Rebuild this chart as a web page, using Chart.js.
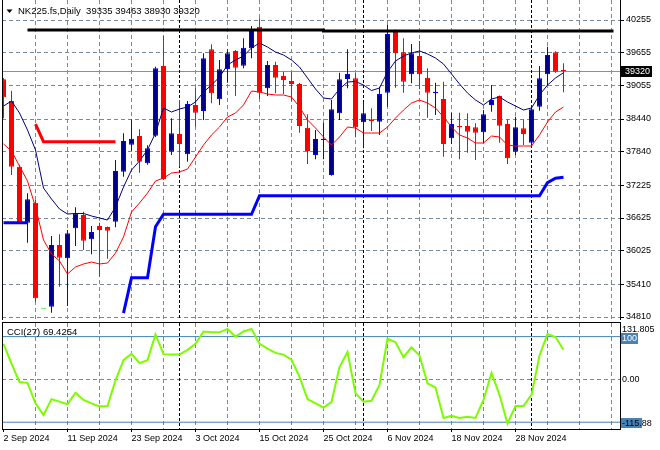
<!DOCTYPE html>
<html lang="en">
<head>
<meta charset="UTF-8" />
<title>NK225.fs Daily</title>
<script src="https://cdn.jsdelivr.net/npm/chart.js@4"></script>
<style>
  body { margin: 0; background: #fff; }
  #wrap { position: relative; width: 660px; height: 450px; overflow: hidden; background: #fff; }
  #price { position: absolute; left: 0; top: 0; }
  #cci { position: absolute; left: 0; top: 320px; }
</style>
</head>
<body>
<div id="wrap">
  <canvas id="price" width="660" height="326"></canvas>
  <canvas id="cci" width="660" height="130"></canvas>
</div>
<script>
const symbol = 'NK225.fs';
const period = 'Daily';

// trading days (one Sunday session on 8 Sep)
const dates = [
  '2024-09-02','2024-09-03','2024-09-04','2024-09-05','2024-09-06','2024-09-08','2024-09-09','2024-09-10','2024-09-11','2024-09-12',
  '2024-09-13','2024-09-16','2024-09-17','2024-09-18','2024-09-19','2024-09-20','2024-09-23','2024-09-24','2024-09-25','2024-09-26',
  '2024-09-27','2024-09-30','2024-10-01','2024-10-02','2024-10-03','2024-10-04','2024-10-07','2024-10-08','2024-10-09','2024-10-10',
  '2024-10-11','2024-10-14','2024-10-15','2024-10-16','2024-10-17','2024-10-18','2024-10-21','2024-10-22','2024-10-23','2024-10-24',
  '2024-10-25','2024-10-28','2024-10-29','2024-10-30','2024-10-31','2024-11-01','2024-11-04','2024-11-05','2024-11-06','2024-11-07',
  '2024-11-08','2024-11-11','2024-11-12','2024-11-13','2024-11-14','2024-11-15','2024-11-18','2024-11-19','2024-11-20','2024-11-21',
  '2024-11-22','2024-11-25','2024-11-26','2024-11-27','2024-11-28','2024-11-29','2024-12-02','2024-12-03','2024-12-04','2024-12-05',
  '2024-12-06'
];

const open = [
  39168, 38770, 37566, 36539, 36906, 34960, 34999, 36130, 35886, 36436,
  36680, 36234, 36478, 36460, 36558, 37474, 37969, 38128, 37628, 38134,
  39412, 37841, 38165, 37793, 38697, 38587, 39718, 38801, 39357, 39687,
  39417, 39736, 40132, 39003, 39430, 39228, 39137, 39082, 38281, 37780,
  38055, 37413, 38545, 39174, 39186, 38380, 38435, 38391, 38922, 40072,
  39663, 39260, 39595, 39197, 38911, 38807, 38087, 38312, 38312, 38288,
  38196, 38697, 38862, 38348, 37841, 38270, 38006, 38666, 39260, 39663,
  39335
];
const high = [
  39192, 38959, 37600, 37078, 36955, 34960, 36295, 36326, 36405, 36821,
  36740, 36478, 36539, 36470, 37688, 38178, 38435, 38251, 37960, 39399,
  39962, 38453, 38788, 38770, 39014, 39645, 39810, 39522, 39718, 39705,
  39920, 40145, 40286, 39503, 39491, 39307, 39307, 39100, 38526, 38238,
  38372, 38788, 39289, 39718, 39278, 38757, 38636, 39032, 40163, 40080,
  39920, 39815, 39870, 39370, 39106, 39124, 38556, 38556, 38545, 38361,
  38605, 39063, 38870, 38435, 38482, 38435, 38697, 39412, 39766, 39680,
  39463
];
const low = [
  38453, 37413, 36520, 36172, 35091, 34960, 34889, 35366, 35012, 36112,
  36038, 35959, 35549, 35879, 36455, 37382, 37859, 37456, 37600, 38110,
  37322, 37780, 37566, 37657, 38299, 38422, 38728, 38697, 39106, 38862,
  39370, 39553, 38807, 38862, 38911, 38898, 38770, 38189, 37615, 37701,
  37701, 37400, 38422, 39003, 38105, 37903, 38220, 38147, 38666, 39014,
  38922, 39095, 38985, 38464, 38514, 37749, 37982, 37701, 37822, 37688,
  38006, 38574, 38006, 37615, 37780, 37963, 37945, 38592, 39063, 39290,
  38930
];
const close = [
  38838, 37566, 36539, 36968, 35153, 34960, 36130, 35897, 36345, 36711,
  36209, 36368, 36405, 36393, 37487, 38037, 38079, 37657, 37903, 39370,
  37334, 38178, 37982, 38715, 38556, 39553, 38911, 39351, 39645, 39381,
  39747, 40085, 38922, 39430, 39197, 39155, 39082, 38312, 37853, 38073,
  38079, 38618, 39168, 39265, 38288, 38545, 38398, 38898, 39998, 39645,
  39124, 39645, 39260, 38922, 38941, 37982, 38348, 38288, 38207, 38189,
  38526, 38788, 38318, 37719, 38288, 38165, 38618, 39186, 39613, 39307,
  39320
];

// moving averages (navy = fast, red = slow)
const maFast = [
  38678, 38770, 38550, 38238, 37872, 37175, 36973, 36790, 36698, 36708,
  36708, 36662, 36625, 36588, 36827, 37193, 37505, 37670, 37872, 38183,
  38642, 38568, 38623, 38660, 38752, 38935, 39063, 39210, 39430, 39522,
  39595, 39742, 39833, 39760, 39668, 39613, 39522, 39393, 39192, 38990,
  38825, 38807, 38990, 39118, 39128, 39063, 38962, 39008, 39302, 39503,
  39595, 39650, 39687, 39632, 39558, 39448, 39265, 39082, 38917, 38788,
  38697, 38807, 38843, 38752, 38678, 38605, 38642, 38880, 39063, 39192,
  39289
];
const maSlow = [
  37982, 37853, 37578, 37303, 36827, 36222, 35965, 35837, 35599, 35727,
  35782, 35818, 35782, 35800, 35983, 36277, 36735, 36900, 37083, 37303,
  37358, 37450, 37468, 37523, 37743, 37963, 38147, 38293, 38477, 38550,
  38697, 38953, 38935, 38898, 38880, 38880, 38843, 38660, 38422, 38275,
  38110, 37963, 38110, 38293, 38275, 38183, 38183, 38183, 38293, 38458,
  38605, 38733, 38788, 38733, 38642, 38477, 38293, 38147, 38092, 38000,
  38000, 38128, 38110, 37963, 37945, 37945, 37945, 38147, 38385, 38568,
  38660
];

// trailing stop lines
const stopUp = [
  36540, 36540, 36540, 36540, null, null, null, null, null, null,
  null, null, null, null, null, 34880, 35531, 35531, 35531, 36466,
  36693, 36693, 36693, 36693, 36693, 36693, 36693, 36693, 36693, 36693,
  36693, 36693, 37034, 37034, 37034, 37034, 37034, 37034, 37034, 37034,
  37034, 37034, 37034, 37034, 37034, 37034, 37034, 37034, 37034, 37034,
  37034, 37034, 37034, 37034, 37034, 37034, 37034, 37034, 37034, 37034,
  37034, 37034, 37034, 37034, 37034, 37034, 37034, 37034, 37272, 37353,
  37371
];
const stopDown = [
  null, null, null, null, 38348, 38025, 38025, 38025, 38025, 38025,
  38025, 38025, 38025, 38025, 38025, null, null, null, null, null,
  null, null, null, null, null, null, null, null, null, null,
  null, null, null, null, null, null, null, null, null, null,
  null, null, null, null, null, null, null, null, null, null,
  null, null, null, null, null, null, null, null, null, null,
  null, null, null, null, null, null, null, null, null, null,
  null
];

// resistance trend line (bar index, price)
const resistX = [3, 40, 40, 76.25];
const resistY = [40072, 40072, 40053, 40053];

const priceTicks = [40255, 39655, 39055, 38440, 37840, 37225, 36625, 36025, 35410, 34810];

const cci = [
  83, 37, -6, -8, -56, -83, -46, -52, -58, -31,
  -48, -56, -63, -62, -2, 45, 60, 38, 45, 105,
  59, 58, 58, 69, 83, 112, 110, 110, 118, 100,
  112, 118, 83, 72, 62, 58, 46, 6, -46, -56,
  -66, -53, 29, 64, -32, -52, -50, -13, 95, 87,
  52, 75, 56, -9, -19, -90, -85, -90, -87, -90,
  -48, 15, -36, -103, -62, -62, -36, 56, 106, 99,
  69.4254
];
const cciLevels = [100, -100];
const CCI_MAX = 131.805, CCI_MIN = -115.88;

// view range
const X_MIN = -0.1875, X_MAX = 77.0625;
const P_MAX = 40621.7, P_MIN = 34755;

const FONT = "9px 'Liberation Sans', Arial, sans-serif";
const TITLE_FONT = "9.5px 'Liberation Sans', Arial, sans-serif";
const gridColor = '#778899';
const monthNames = ['Jan','Feb','Mar','Apr','May','Jun','Jul','Aug','Sep','Oct','Nov','Dec'];

Chart.defaults.font.family = "'Liberation Sans', Arial, sans-serif";
Chart.defaults.font.size = 9;
Chart.defaults.color = '#000';

const idx = close.map((_, i) => i);
const dir = idx.map(i => close[i] > open[i] ? 1 : close[i] < open[i] ? -1 : 0);
const edgeColor = dir.map(d => d > 0 ? '#0000ff' : d < 0 ? '#ff0000' : '#00ff00');
const bodyColor = dir.map(d => d > 0 ? '#00008b' : d < 0 ? '#ff0000' : '#00ff00');
const monthStarts = idx.filter(i => i > 0 && dates[i].slice(5, 7) !== dates[i - 1].slice(5, 7));

function xLabel(k) {
  if (k % 8 !== 0 || k >= dates.length) return '';
  const [y, m, d] = dates[k].split('-');
  return `${+d} ${monthNames[+m - 1]} ${y}`;
}

function xGridTicks(scale) {
  const t = [];
  for (let k = 0; k <= X_MAX; k += 4) t.push({ value: k });
  scale.ticks = t;
}

function lineSet(vals, color, width, order) {
  return {
    type: 'line', data: vals.map((v, i) => ({ x: i, y: v })),
    borderColor: color, borderWidth: width, pointRadius: 0, tension: 0, fill: false, order
  };
}

function drawSeparators(ctx, a, x) {
  ctx.save();
  ctx.strokeStyle = '#000';
  ctx.lineWidth = 1;
  ctx.setLineDash([3, 2]);
  monthStarts.forEach(k => {
    const px = Math.floor(x.getPixelForValue(k)) + 0.5;
    ctx.beginPath();
    ctx.moveTo(px, a.top);
    ctx.lineTo(px, a.bottom);
    ctx.stroke();
  });
  ctx.restore();
}

const xGridColor = c => (c.tick && c.tick.value === 0) ? 'rgba(0,0,0,0)' : gridColor;

const pricePane = {
  id: 'pricePane',
  beforeDatasetsDraw(chart) {
    const { ctx, chartArea: a, scales: { x, y } } = chart;
    ctx.save();
    const by = Math.round(y.getPixelForValue(close[close.length - 1])) + 0.5;
    ctx.strokeStyle = '#8a909a';
    ctx.lineWidth = 1;
    ctx.beginPath(); ctx.moveTo(a.left, by); ctx.lineTo(a.right, by); ctx.stroke();
    ctx.restore();
    drawSeparators(ctx, a, x);
  },
  afterDraw(chart) {
    const { ctx, chartArea: a, scales: { y } } = chart;
    const n = close.length - 1;
    ctx.save();
    ctx.strokeStyle = '#000';
    ctx.lineWidth = 1;
    ctx.beginPath();
    ctx.moveTo(a.left + 0.5, a.top); ctx.lineTo(a.left + 0.5, a.bottom);
    ctx.moveTo(a.right + 0.5, a.top); ctx.lineTo(a.right + 0.5, a.bottom);
    ctx.stroke();

    // title
    ctx.fillStyle = '#000';
    ctx.beginPath(); ctx.moveTo(6.5, 9.5); ctx.lineTo(12.5, 9.5); ctx.lineTo(9.5, 13); ctx.closePath(); ctx.fill();
    ctx.font = TITLE_FONT;
    ctx.textBaseline = 'middle';
    ctx.textAlign = 'left';
    ctx.fillText(`${symbol},${period}  ${open[n]} ${high[n]} ${low[n]} ${close[n]}`, 18, 11);

    // last price box
    ctx.font = FONT;
    const py = y.getPixelForValue(close[n]);
    ctx.fillStyle = '#000';
    ctx.fillRect(a.right, Math.round(py) - 5, 32, 11);
    ctx.fillStyle = '#fff';
    ctx.fillText(String(close[n]), a.right + 5, py + 0.5);
    ctx.restore();
  }
};

const cciPane = {
  id: 'cciPane',
  beforeDatasetsDraw(chart) {
    const { ctx, chartArea: a, scales: { x } } = chart;
    drawSeparators(ctx, a, x);
  },
  afterDraw(chart) {
    const { ctx, chartArea: a, scales: { y } } = chart;
    ctx.save();
    ctx.strokeStyle = '#000';
    ctx.lineWidth = 1;
    ctx.beginPath();
    ctx.moveTo(a.left + 0.5, a.top - 1); ctx.lineTo(a.left + 0.5, a.bottom + 1);
    ctx.moveTo(a.right + 0.5, a.top - 1); ctx.lineTo(a.right + 0.5, a.bottom + 1);
    ctx.moveTo(a.left, a.top - 0.5); ctx.lineTo(a.right + 1, a.top - 0.5);
    ctx.moveTo(a.left, a.bottom + 0.5); ctx.lineTo(a.right + 1, a.bottom + 0.5);
    ctx.stroke();

    ctx.font = FONT;
    ctx.textBaseline = 'middle';
    ctx.textAlign = 'left';
    const lx = a.right + 2;
    ctx.fillStyle = '#000';
    ctx.fillText(String(CCI_MAX), lx, y.getPixelForValue(CCI_MAX) + 6.5);
    ctx.fillText('0.00', lx, y.getPixelForValue(0));

    const p100 = y.getPixelForValue(cciLevels[0]);
    ctx.fillStyle = '#4682b4';
    ctx.fillRect(lx - 1, Math.round(p100) - 4, 17, 11);
    ctx.fillStyle = '#fff';
    ctx.fillText(String(cciLevels[0]), lx, p100 + 1.5);

    const pm = y.getPixelForValue(cciLevels[1]);
    ctx.fillStyle = '#4682b4';
    ctx.fillRect(lx - 1, Math.round(pm) - 4, 21, 10);
    ctx.fillStyle = '#000';
    ctx.fillText(CCI_MIN.toFixed(2), lx, pm + 1);

    ctx.font = TITLE_FONT;
    ctx.fillText('CCI(27) ' + cci[cci.length - 1].toFixed(4), a.left + 5, a.top + 9);
    ctx.restore();
  }
};

new Chart(document.getElementById('price'), {
  type: 'bar',
  data: {
    datasets: [
      { type: 'bar', data: idx.map(i => ({ x: i, y: [low[i], high[i]] })),
        backgroundColor: edgeColor, barThickness: 1, grouped: false, inflateAmount: 0, order: 20 },
      { type: 'bar', data: idx.map(i => ({ x: i, y: [Math.min(open[i], close[i]), Math.max(open[i], close[i])] })),
        backgroundColor: bodyColor, borderColor: edgeColor, borderWidth: 1, borderSkipped: false,
        barThickness: 5, minBarLength: 1, grouped: false, inflateAmount: 0, order: 19 },
      lineSet(maSlow, '#ff0000', 1, 6),
      lineSet(maFast, '#000080', 1, 5),
      lineSet(stopDown, '#ff0000', 3, 4),
      lineSet(stopUp, '#0000ff', 3, 3),
      { type: 'line', data: resistX.map((v, i) => ({ x: v, y: resistY[i] })),
        borderColor: '#000', borderWidth: 3, pointRadius: 0, tension: 0, fill: false, order: 2 }
    ]
  },
  options: {
    responsive: false,
    animation: false,
    events: [],
    layout: { padding: { left: 2, right: 0, top: 0, bottom: 6 } },
    plugins: { legend: { display: false }, tooltip: { enabled: false } },
    scales: {
      x: {
        type: 'linear', min: X_MIN, max: X_MAX, offset: false,
        afterBuildTicks: xGridTicks,
        afterFit: s => { s.height = 0; s.paddingLeft = 0; s.paddingRight = 0; },
        grid: { color: xGridColor, drawTicks: false, offset: false },
        border: { display: false, dash: [4, 3] },
        ticks: { display: false }
      },
      y: {
        position: 'right', min: P_MIN, max: P_MAX,
        afterBuildTicks: s => { s.ticks = priceTicks.map(v => ({ value: v })); },
        afterFit: s => { s.width = 40; s.paddingTop = 0; s.paddingBottom = 0; },
        grid: { color: gridColor, tickColor: '#000', tickLength: 4 },
        border: { display: false, dash: [4, 3] },
        ticks: { color: '#000', padding: 2, callback: v => String(v) }
      }
    }
  },
  plugins: [pricePane]
});

new Chart(document.getElementById('cci'), {
  type: 'line',
  data: {
    datasets: [
      lineSet(cci, '#7cfc00', 2, 1),
      { data: [{ x: X_MIN, y: cciLevels[0] }, { x: X_MAX, y: cciLevels[0] }],
        borderColor: '#4682b4', borderWidth: 1, pointRadius: 0, order: 5 },
      { data: [{ x: X_MIN, y: cciLevels[1] }, { x: X_MAX, y: cciLevels[1] }],
        borderColor: '#4682b4', borderWidth: 1, pointRadius: 0, order: 5 }
    ]
  },
  options: {
    responsive: false,
    animation: false,
    events: [],
    layout: { padding: { left: 2, right: 0, top: 3, bottom: 0 } },
    plugins: { legend: { display: false }, tooltip: { enabled: false } },
    scales: {
      x: {
        type: 'linear', min: X_MIN, max: X_MAX, offset: false,
        afterBuildTicks: xGridTicks,
        afterFit: s => { s.height = 21; s.paddingLeft = 0; s.paddingRight = 0; },
        grid: {
          color: xGridColor, offset: false, tickLength: 3,
          tickColor: c => (c.tick && xLabel(c.tick.value)) ? '#000' : 'rgba(0,0,0,0)'
        },
        border: { display: false, dash: [4, 3] },
        ticks: { autoSkip: false, maxRotation: 0, align: 'start', padding: 1, color: '#000', callback: v => xLabel(v) }
      },
      y: {
        position: 'right', min: CCI_MIN, max: CCI_MAX,
        afterBuildTicks: s => { s.ticks = [{ value: 0 }]; },
        afterFit: s => { s.width = 40; s.paddingTop = 0; s.paddingBottom = 0; },
        grid: { color: gridColor, drawTicks: false },
        border: { display: false, dash: [4, 3] },
        ticks: { display: false }
      }
    }
  },
  plugins: [cciPane]
});
</script>
</body>
</html>
